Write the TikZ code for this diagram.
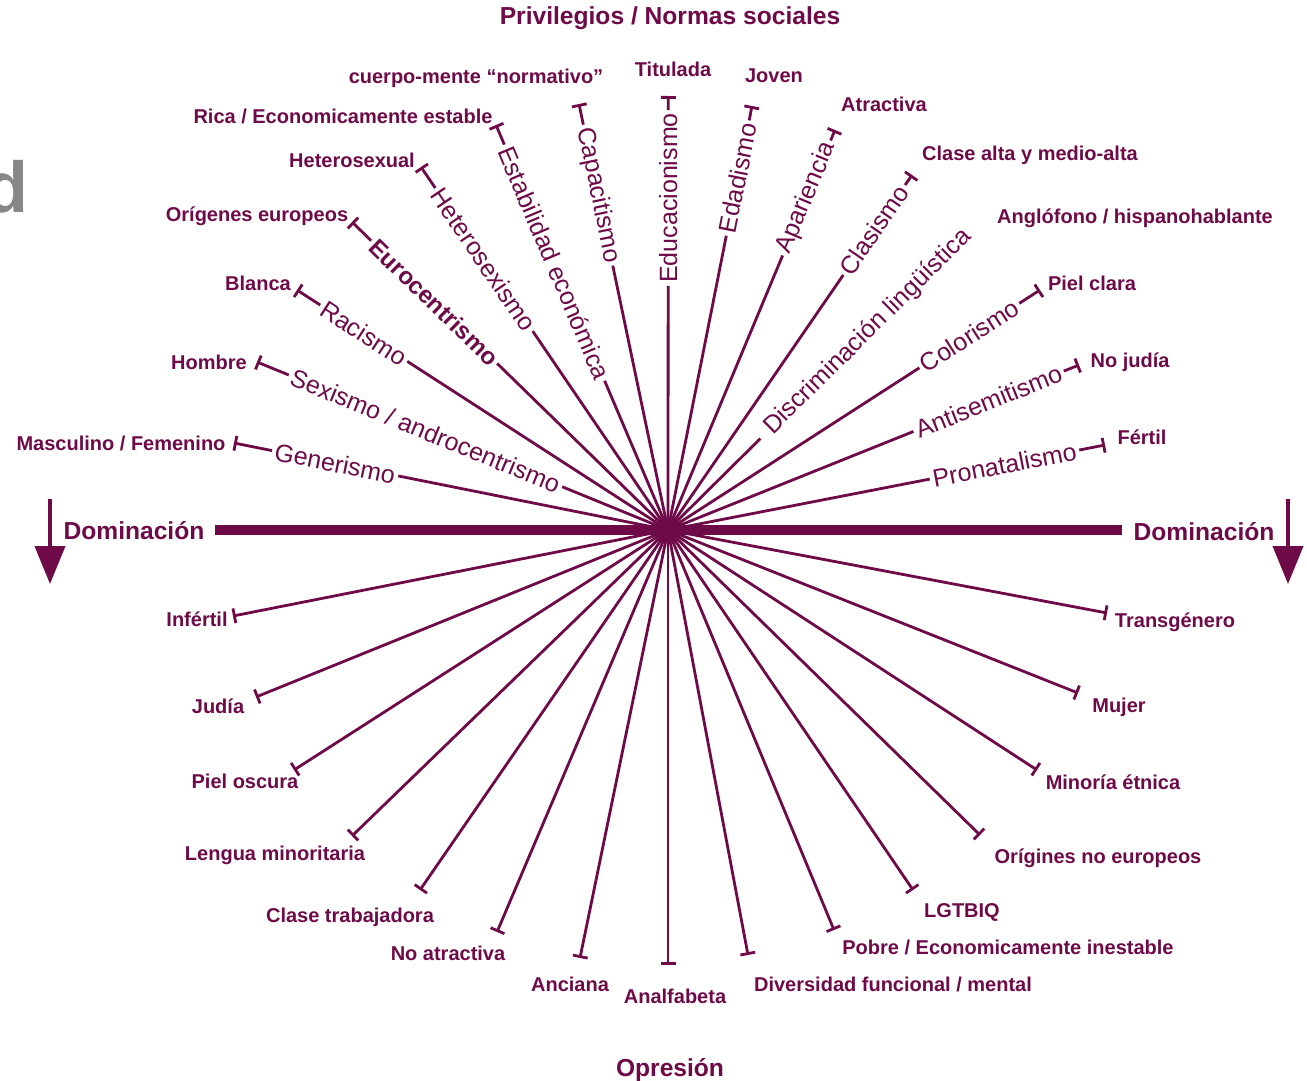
\documentclass[tikz,border=0pt]{standalone}
\usepackage{fontspec}
\setmainfont{Liberation Sans}
\usetikzlibrary{arrows.meta,calc}
\definecolor{maroon}{RGB}{110,10,72}
\begin{document}
\begin{tikzpicture}[x=1pt,y=-1pt,
  rayline/.style={line width=2.8pt,draw=maroon},
  raybar/.style={rayline,{Bar[width=15pt]}-},
  raytext/.style={text=maroon,font=\fontsize{25}{26}\selectfont,inner sep=3pt,sloped},
  lbl/.style={text=maroon,font=\bfseries\fontsize{20}{21}\selectfont,inner sep=0pt,anchor=base},
  big/.style={text=maroon,font=\bfseries\fontsize{24.6}{26}\selectfont,inner sep=0pt,anchor=base},
  hbar/.style={line width=10pt,draw=maroon},
  downarrow/.style={line width=4pt,draw=maroon,fill=maroon,-{Triangle[width=30pt,length=38pt]}},
]
\useasboundingbox (0,0) rectangle (1307,1081);
% grey fragment
\begin{scope}
\clip (0,0) rectangle (1307,1081);
\node[text=black!47,font=\bfseries\fontsize{72}{72}\selectfont,inner sep=0pt,anchor=base west] (frag) at (-16,212) {d};
\end{scope}

\coordinate (C) at (668,530);

% titles
\node[big] (tit) at (670,25) {Privilegios / Normas sociales};
\node[big] (opr) at (670,1076) {Opresión};
\node[big] (domL) at (134,539) {Dominación};
\node[big] (domR) at (1204,540) {Dominación};
\coordinate (hL) at (215,530);
\coordinate (hR) at (1122,530);
\draw[hbar] (hL) -- (hR);
\coordinate (aL1) at (50,499);
\coordinate (aL2) at (50,584);
\coordinate (aR1) at (1288,499);
\coordinate (aR2) at (1288,584);
\draw[downarrow] (aL1) -- (aL2);
\draw[downarrow] (aR1) -- (aR2);

% ---- upper left rays (text read from outer end to centre)
\coordinate (eGen) at (234,443);
\coordinate (eSex) at (257,362);
\coordinate (eRac) at (297,290);
\coordinate (eEur) at (352,222);
\coordinate (eHet) at (421,167);
\coordinate (eEst) at (496,125);
\coordinate (eCap) at (579,104);
\coordinate (eEdu) at (668.3,96);
\path (eGen) -- node[raytext,pos=.233] (tGen) {Generismo} (C);
\path (eSex) -- node[raytext,pos=.41] (tSex) {Sexismo / androcentrismo} (C);
\path (eRac) -- node[raytext,pos=.18] (tRac) {Racismo} (C);
\path (eEur) -- node[raytext,pos=.26,font=\bfseries\fontsize{24}{26}\selectfont] (tEur) {Eurocentrismo} (C);
\path (eHet) -- node[raytext,pos=.255] (tHet) {Heterosexismo} (C);
\path (eEst) -- node[raytext,pos=.34] (tEst) {Estabilidad económica} (C);
\path (eCap) -- node[raytext,pos=.214] (tCap) {Capacitismo} (C);
\path (eEdu) -- node[raytext,pos=.235] (tEdu) {Educacionismo} (C);
\foreach \n in {Gen,Sex,Rac,Eur,Het,Est,Cap,Edu}{
  \draw[raybar] (e\n) -- (t\n);
  \draw[rayline] (t\n) -- (C);
}

% ---- upper right rays (text read from centre outwards)
\coordinate (eEda) at (752,106);
\coordinate (eApa) at (835,130);
\coordinate (eCla) at (912,175);
\coordinate (eDis) at (968,233);
\coordinate (eCol) at (1040,290);
\coordinate (eAnt) at (1079,365);
\coordinate (ePro) at (1105,445);
\path (C) -- node[raytext,pos=.83] (tEda) {Edadismo} (eEda);
\path (C) -- node[raytext,pos=.83] (tApa) {Apariencia} (eApa);
\path (C) -- node[raytext,pos=.845] (tCla) {Clasismo} (eCla);
\path (C) -- node[raytext,pos=.667] (tDis) {Discriminación lingüística} (eDis);
\path (C) -- node[raytext,pos=.81] (tCol) {Colorismo} (eCol);
\path (C) -- node[raytext,pos=.78] (tAnt) {Antisemitismo} (eAnt);
\path (C) -- node[raytext,pos=.77] (tPro) {Pronatalismo} (ePro);
\foreach \n in {Eda,Apa,Cla,Col,Ant,Pro}{
  \draw[raybar] (e\n) -- (t\n);
  \draw[rayline] (t\n) -- (C);
}
\draw[rayline, shorten <=8pt] (tDis) -- (C);

% ---- lower rays
\coordinate (eInf) at (233,616);
\coordinate (eJud) at (256,697);
\coordinate (ePio) at (294,770);
\coordinate (eLen) at (352,836);
\coordinate (eCtr) at (420,890);
\coordinate (eNoa) at (497,932);
\coordinate (eAnc) at (580,958);
\coordinate (eAna) at (668,965);
\coordinate (eDiv) at (748,955);
\coordinate (ePob) at (834,930);
\coordinate (eLGT) at (913,890);
\coordinate (eOri) at (980,835);
\coordinate (eMin) at (1037,770);
\coordinate (eMuj) at (1078,693);
\coordinate (eTra) at (1107,613);
\foreach \n in {Inf,Jud,Pio,Len,Ctr,Noa,Anc,Ana,Div,Pob,LGT,Ori,Min,Muj,Tra}{
  \draw[raybar] (e\n) -- (C);
}
\fill[maroon] (C) circle (9);

% ---- labels (upper)
\node[lbl] (lCue) at (476,84) {cuerpo-mente “normativo”};
\node[lbl] (lTit) at (673,77) {Titulada};
\node[lbl] (lJov) at (774,83) {Joven};
\node[lbl] (lAtr) at (884,111) {Atractiva};
\node[lbl] (lCla) at (1030,160) {Clase alta y medio-alta};
\node[lbl] (lAng) at (1135,223) {Anglófono / hispanohablante};
\node[lbl] (lPic) at (1092,290) {Piel clara};
\node[lbl] (lNoj) at (1130,367) {No judía};
\node[lbl] (lFer) at (1142,444) {Fértil};
\node[lbl] (lRic) at (343,123) {Rica / Economicamente estable};
\node[lbl] (lHet) at (352,167) {Heterosexual};
\node[lbl] (lOre) at (257,221) {Orígenes europeos};
\node[lbl] (lBla) at (258,290) {Blanca};
\node[lbl] (lHom) at (209,369) {Hombre};
\node[lbl] (lMas) at (121,450) {Masculino / Femenino};
% ---- labels (lower)
\node[lbl] (lInf) at (197,626) {Infértil};
\node[lbl] (lJud) at (218,713) {Judía};
\node[lbl] (lPio) at (245,788) {Piel oscura};
\node[lbl] (lLen) at (275,860) {Lengua minoritaria};
\node[lbl] (lCtr) at (350,922) {Clase trabajadora};
\node[lbl] (lNoa) at (448,960) {No atractiva};
\node[lbl] (lAnc) at (570,991) {Anciana};
\node[lbl] (lAna) at (675,1003) {Analfabeta};
\node[lbl] (lDiv) at (893,991) {Diversidad funcional / mental};
\node[lbl] (lPob) at (1008,954) {Pobre / Economicamente inestable};
\node[lbl] (lLGT) at (962,917) {LGTBIQ};
\node[lbl] (lOri) at (1098,863) {Orígines no europeos};
\node[lbl] (lMin) at (1113,789) {Minoría étnica};
\node[lbl] (lMuj) at (1119,712) {Mujer};
\node[lbl] (lTra) at (1175,627) {Transgénero};
\end{tikzpicture}
\end{document}
